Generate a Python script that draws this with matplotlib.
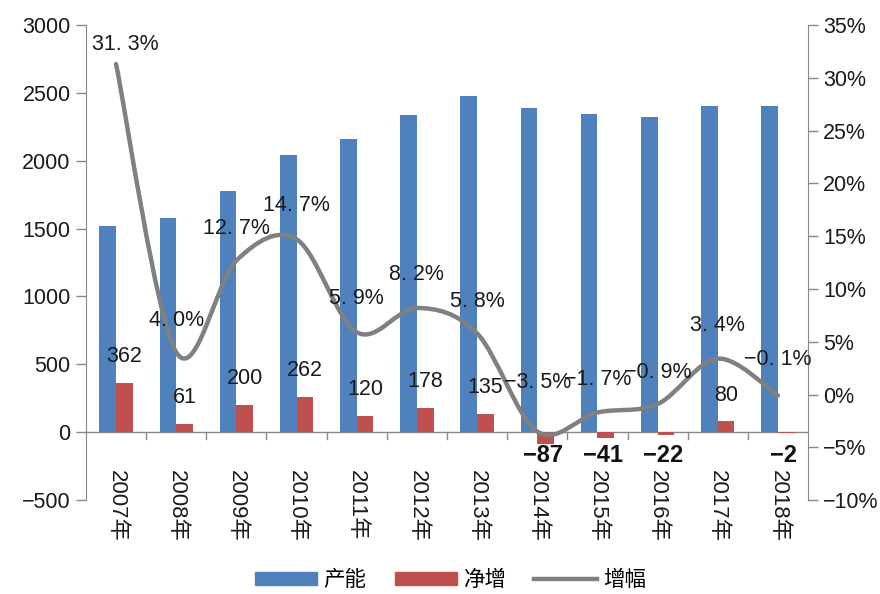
import matplotlib
matplotlib.use("Agg")
import matplotlib.pyplot as plt
from matplotlib.path import Path
from matplotlib.patches import PathPatch, Patch
from matplotlib.lines import Line2D

plt.rcParams['font.family'] = ['Liberation Sans', 'Noto Sans CJK SC']
plt.rcParams['axes.unicode_minus'] = True

# データ
years = ['2007年', '2008年', '2009年', '2010年', '2011年', '2012年',
         '2013年', '2014年', '2015年', '2016年', '2017年', '2018年']
capacity = [1519, 1580, 1780, 2042, 2162, 2340, 2475, 2388, 2347, 2325, 2405, 2403]
net_add = [362, 61, 200, 262, 120, 178, 135, -87, -41, -22, 80, -2]
growth = [31.3, 4.0, 12.7, 14.7, 5.9, 8.2, 5.8, -3.5, -1.7, -0.9, 3.4, -0.1]
growth_labels = ['31. 3%', '4. 0%', '12. 7%', '14. 7%', '5. 9%', '8. 2%',
                 '5. 8%', '−3. 5%', '−1. 7%', '−0. 9%', '3. 4%', '−0. 1%']
# 増幅ラベルの位置ずれ（ポイント）
label_dx = [7, 0, 0, 0, 0, 0, 0, 0, 0, 0, 0, 0]
label_dy = [14, 23, 23, 24, 24, 24, 23, 35, 24, 23, 24, 26]

BLUE = '#4F81BD'
RED = '#C0504D'
GRAY = '#808080'
AXIS = '#888888'
TXT = '#1a1a1a'
FS = 15.5

fig = plt.figure(figsize=(8.8, 5.94), dpi=100)
ax = fig.add_axes([0.0977, 0.158, 0.8205, 0.8])
ax2 = ax.twinx()

x = list(range(len(years)))
w = 0.277
ax.bar([i - w / 2 for i in x], capacity, w, color=BLUE, zorder=2)
ax.bar([i + w / 2 for i in x], net_add, w, color=RED, zorder=2)

ax.set_xlim(-0.5, len(years) - 0.5)
ax.set_ylim(-500, 3000)
ax.set_yticks(range(-500, 3001, 500))
ax.set_yticklabels([f'{v:d}'.replace('-', '−') for v in range(-500, 3001, 500)], fontsize=FS)

ax2.set_ylim(-10, 35)
ax2.set_yticks(range(-10, 36, 5))
ax2.set_yticklabels([f'{v}%'.replace('-', '−') for v in range(-10, 36, 5)], fontsize=FS)

for a in (ax, ax2):
    for s in ('top', 'bottom'):
        a.spines[s].set_visible(False)
    a.spines['left'].set_color(AXIS)
    a.spines['right'].set_color(AXIS)
    a.tick_params(axis='y', colors=AXIS, labelcolor=TXT, length=7, width=1, pad=4)
ax.spines['right'].set_visible(False)
ax2.spines['left'].set_visible(False)

# カテゴリ軸（0の位置）
ax.axhline(0, color=AXIS, lw=1, zorder=1)
ax.set_xticks([])
for b in [i + 0.5 for i in x[:-1]]:
    ax.plot([b, b], [0, -50], color=AXIS, lw=1, zorder=1, clip_on=False)
for i, y in enumerate(years):
    ax.text(i, 0.064, y, transform=ax.get_xaxis_transform(), rotation=-90,
            ha='center', va='top', fontsize=FS + 0.5, color=TXT)

# 滑らかな折れ線（Excel風ベジェ）
pts = list(zip(x, growth))
verts = [pts[0]]
codes = [Path.MOVETO]
n = len(pts)
for i in range(n - 1):
    p0 = pts[i - 1] if i > 0 else pts[i]
    p1 = pts[i]
    p2 = pts[i + 1]
    p3 = pts[i + 2] if i + 2 < n else pts[i + 1]
    c1 = (p1[0] + (p2[0] - p0[0]) / 6, p1[1] + (p2[1] - p0[1]) / 6)
    c2 = (p2[0] - (p3[0] - p1[0]) / 6, p2[1] - (p3[1] - p1[1]) / 6)
    verts += [c1, c2, p2]
    codes += [Path.CURVE4] * 3
ax2.add_patch(PathPatch(Path(verts, codes), fill=False, edgecolor=GRAY,
                        lw=3.2, capstyle='round', joinstyle='round', zorder=3))

for i, (g, lab) in enumerate(zip(growth, growth_labels)):
    ax2.annotate(lab, (i, g), xytext=(label_dx[i], label_dy[i]), textcoords='offset points',
                 ha='center', va='center', fontsize=FS, color=TXT, zorder=4)

# 净增のラベル
for i, v in enumerate(net_add):
    if v >= 0:
        ax.annotate(str(v), (i + w / 2, v), xytext=(0, 19), textcoords='offset points',
                    ha='center', va='center', fontsize=FS, color=TXT)
    else:
        ax.annotate(str(v).replace('-', '−'), (i + w / 2, 0), xytext=(-2, -17),
                    textcoords='offset points', ha='center', va='center',
                    fontsize=FS + 1.5, fontweight='bold', color='#111111')

handles = [Patch(color=BLUE), Patch(color=RED), Line2D([0], [0], color=GRAY, lw=3.2)]
fig.legend(handles, ['产能', '净增', '增幅'], loc='lower center', bbox_to_anchor=(0.512, -0.028),
           ncol=3, frameon=False, fontsize=FS, handlelength=2.9, handleheight=0.55,
           columnspacing=1.3, handletextpad=0.3)

fig.savefig('out.png', dpi=100)
